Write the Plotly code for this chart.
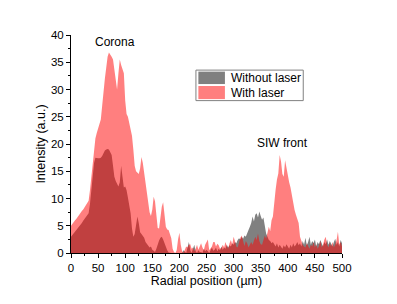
import plotly.graph_objects as go

# Radial position grid (µm), 2.5 µm sampling
step = 2.5
n_pts = 201
radial_position = [i * step for i in range(n_pts)]

# Intensity with laser (a.u.)
with_laser = [
    5.0, 5.4, 5.7, 6.0, 6.3, 6.7, 7.0, 7.3, 7.7, 8.0,
    8.4, 8.8, 9.3, 9.6, 11.5, 14.0, 17.0, 19.5, 21.0, 22.0,
    22.8, 23.5, 24.5, 27.0, 30.0, 32.0, 34.0, 36.0, 36.8, 36.5,
    36.0, 35.5, 33.5, 31.0, 30.0, 33.0, 35.5, 34.5, 33.5, 33.0,
    28.0, 25.5, 25.0, 24.0, 23.0, 21.5, 19.0, 16.0, 15.0, 14.8,
    14.5, 15.5, 17.6, 16.5, 14.5, 13.0, 10.5, 8.5, 7.5, 6.8,
    8.0, 10.3, 9.5, 7.0, 4.6, 4.5, 6.5, 8.5, 9.3, 6.5,
    4.8, 4.3, 4.2, 3.5, 2.7, 0.8, 0.2, 0.0, 0.5, 2.5,
    3.7, 1.5, 0.3, 0.0, 0.8, 1.2, 1.0, 1.5, 1.6, 0.8,
    1.0, 0.3, 0.8, 1.5, 0.6, 1.2, 1.8, 1.0, 0.5, 1.5,
    2.0, 2.5, 0.5, 0.8, 1.2, 2.0, 2.0, 1.2, 1.7, 1.4,
    0.8, 0.9, 1.5, 1.0, 2.0, 1.3, 0.8, 1.8, 2.4, 1.5,
    3.0, 2.2, 1.2, 1.0, 2.0, 2.8, 3.2, 2.0, 1.3, 2.2,
    1.8, 1.0, 1.4, 2.0, 1.5, 2.2, 3.0, 2.4, 3.6, 2.2,
    1.6, 1.5, 2.5, 3.2, 2.6, 3.5, 4.8, 4.0, 6.0, 6.7,
    9.5, 11.6, 13.5, 14.6, 18.0, 16.8, 14.5, 14.0, 17.0, 15.5,
    14.0, 13.0, 12.0, 10.5, 9.5, 7.9, 7.0, 6.0, 5.5, 3.0,
    2.0, 1.5, 1.2, 1.0, 1.8, 1.2, 0.8, 1.5, 1.2, 2.0,
    1.0, 1.6, 0.8, 1.3, 2.2, 1.0, 1.5, 2.5, 3.0, 1.5,
    1.0, 1.8, 1.2, 2.0, 1.0, 1.5, 2.4, 3.9, 1.5, 2.0,
    1.2,
]

# Intensity without laser (a.u.)
without_laser = [
    3.0, 3.3, 3.6, 3.9, 4.2, 4.5, 4.9, 5.2, 5.5, 5.9,
    6.2, 6.6, 7.0, 7.3, 9.0, 11.5, 14.0, 16.5, 17.5, 17.4,
    17.4, 17.4, 17.5, 17.8, 18.4, 18.8, 19.0, 19.1, 19.0, 18.5,
    18.0, 16.0, 14.0, 13.2, 12.8, 12.2, 13.0, 16.0, 14.0, 12.0,
    12.2, 11.5, 10.2, 8.5, 7.3, 4.5, 3.0, 3.5, 5.5, 6.7,
    5.5, 3.8, 3.5, 3.2, 2.8, 2.0, 1.7, 1.5, 1.0, 1.2,
    0.6, 0.4, 0.2, 0.8, 1.8, 2.3, 2.8, 3.0, 2.5, 1.7,
    1.0, 0.5, 0.1, 0.0, 0.0, 0.0, 0.0, 0.0, 0.0, 0.0,
    0.0, 0.0, 0.0, 0.5, 0.2, 0.0, 1.0, 2.0, 0.5, 0.0,
    0.8, 1.5, 0.3, 0.0, 0.5, 0.2, 0.2, 0.0, 0.8, 0.3,
    0.6, 0.2, 0.0, 0.5, 1.0, 0.4, 0.6, 1.0, 0.3, 0.8,
    0.5, 1.2, 0.6, 1.0, 0.8, 1.5, 1.0, 1.4, 1.2, 1.8,
    1.5, 2.0, 1.8, 2.4, 2.7, 2.5, 3.0, 2.6, 3.2, 3.0,
    3.8, 4.2, 4.8, 5.5, 6.7, 5.8, 7.0, 7.3, 6.5, 7.6,
    6.8, 6.1, 6.5, 5.0, 3.6, 3.0, 2.4, 2.2, 1.8, 2.0,
    1.5, 1.2, 1.8, 1.0, 1.5, 1.2, 0.8, 1.4, 1.0, 1.6,
    1.2, 0.8, 1.5, 1.0, 1.8, 1.2, 1.5, 2.0, 1.4, 1.8,
    1.2, 2.2, 1.5, 2.8, 1.4, 2.0, 3.0, 1.5, 2.2, 1.8,
    2.5, 1.2, 2.0, 1.6, 2.4, 1.8, 1.2, 2.0, 1.6, 2.5,
    1.5, 2.2, 1.8, 1.2, 2.0, 2.6, 1.5, 2.0, 1.2, 2.4,
    1.8,
]

assert len(with_laser) == n_pts and len(without_laser) == n_pts

series_names = ["Without laser", "With laser"]
series_colors = ["rgb(128,128,128)", "rgba(255,0,0,0.5)"]
annotations_text = ["Corona", "SIW front"]

FONT = "Arial, Liberation Sans, sans-serif"

fig = go.Figure()
for name, ys, col in zip(series_names, [without_laser, with_laser], series_colors):
    fig.add_trace(go.Scatter(
        x=radial_position, y=ys, name=name,
        mode="lines", fill="tozeroy",
        line=dict(width=0, color=col),
        fillcolor=col, showlegend=False,
    ))

# Legend (drawn as a framed key in paper coordinates)
shapes = [dict(type="rect", xref="paper", yref="paper",
               x0=0.461, x1=0.857, y0=0.699, y1=0.839,
               line=dict(color="rgb(128,128,128)", width=1),
               fillcolor="white", layer="above")]
legend_rows = [(0.775, 0.832, 0.803), (0.706, 0.766, 0.736)]
annotations = []
for (y0, y1, yc), name, col in zip(legend_rows, series_names, series_colors):
    shapes.append(dict(type="rect", xref="paper", yref="paper",
                       x0=0.470, x1=0.568, y0=y0, y1=y1,
                       line=dict(width=0), fillcolor=col, layer="above"))
    annotations.append(dict(x=0.584, y=yc, xref="paper", yref="paper",
                            xanchor="left", yanchor="middle", text=name,
                            showarrow=False, font=dict(size=12, family=FONT)))

annotations += [
    dict(x=81, y=38.7, xref="x", yref="y", text=annotations_text[0],
         showarrow=False, font=dict(size=12, family=FONT)),
    dict(x=391, y=20.2, xref="x", yref="y", text=annotations_text[1],
         showarrow=False, font=dict(size=12, family=FONT)),
]

fig.update_layout(
    width=397, height=304,
    margin=dict(l=71, r=55, t=35, b=51),
    paper_bgcolor="white", plot_bgcolor="white",
    font=dict(family=FONT, size=11.5, color="black"),
    showlegend=False,
    shapes=shapes,
    annotations=annotations,
)

fig.update_xaxes(
    range=[0, 500], tickmode="linear", tick0=0, dtick=50,
    ticks="outside", ticklen=4, tickwidth=1, tickcolor="black",
    minor=dict(ticks="outside", ticklen=2, dtick=25, tickcolor="black"),
    showline=True, linecolor="black", linewidth=1,
    showgrid=False, zeroline=False, automargin=False,
    tickfont=dict(size=11.5),
    title=dict(text="Radial position (µm)", font=dict(size=12.5), standoff=2),
)
fig.update_yaxes(
    range=[0, 40], tickmode="linear", tick0=0, dtick=5,
    ticks="outside", ticklen=4, tickwidth=1, tickcolor="black",
    minor=dict(ticks="outside", ticklen=2, dtick=2.5, tickcolor="black"),
    showline=True, linecolor="black", linewidth=1,
    showgrid=False, zeroline=False, automargin=False,
    tickfont=dict(size=11.5),
    title=dict(text="Intensity (a.u.)", font=dict(size=12.5), standoff=2),
)

fig.write_html("out.html",
               config={"displayModeBar": False},
               post_script="document.body.style.margin='0';document.body.style.padding='0';")
